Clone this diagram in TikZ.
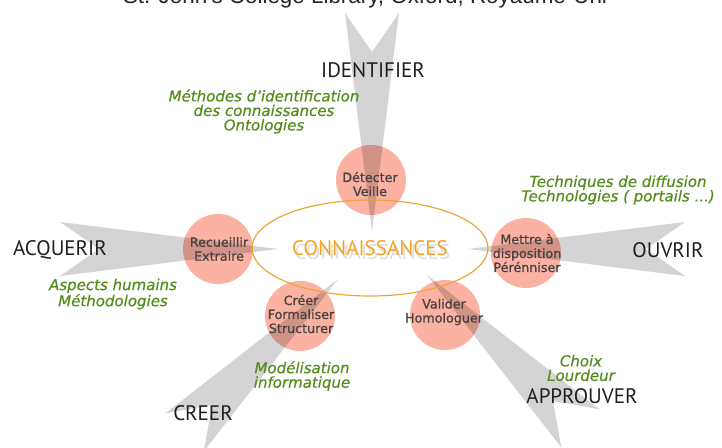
\documentclass[tikz,border=0pt]{standalone}
\usepackage{fontspec}
\setmainfont{DejaVu Sans}
\newfontfamily\labfont{PT Sans}
\newfontfamily\topfont{Liberation Sans}
\newfontfamily\circfont[FakeBold=0.9]{DejaVu Sans}
\newfontfamily\notefont[FakeBold=0.4]{DejaVu Sans}
\usetikzlibrary{shapes.geometric}
\definecolor{arrowgray}{RGB}{212,212,212}
\definecolor{salmon}{RGB}{251,178,162}
\definecolor{ellorange}{RGB}{236,166,56}
\definecolor{textorange}{RGB}{242,163,35}
\definecolor{greentxt}{RGB}{84,140,28}
\definecolor{circtxt}{RGB}{72,66,66}
\begin{document}
\begin{tikzpicture}[x=1pt,y=-1pt,
  bigarrow/.style={fill=arrowgray,draw=none},
  bubble/.style={circle,fill=salmon,minimum size=70pt,inner sep=0pt,blend mode=multiply},
  bubbletext/.style={font=\circfont\fontsize{12.7}{14}\selectfont,text=circtxt,align=center,inner sep=0pt},
  verb/.style={font=\labfont\fontsize{21}{21}\selectfont,text=black!88,inner sep=0pt},
  note/.style={font=\notefont\itshape\fontsize{15}{14.5}\selectfont,text=greentxt,align=center,inner sep=0pt},
  coreshade/.style={font=\labfont\fontsize{21}{21}\selectfont,text=black,opacity=0.13,inner sep=0pt}]
\useasboundingbox (0,0) rectangle (722,447);
\clip (0,0) rectangle (722,447);
% caption cut at the top
\node (caption) [anchor=base,inner sep=0pt,font=\topfont\fontsize{22.4}{24}\selectfont,text=black!85] at (365,4) {St. John's College Library, Oxford, Royaume-Uni};
% big gray arrows
\fill[bigarrow] (372,231) -- (345,13) -- (372,52) -- (399,13) -- cycle;
\fill[bigarrow] (278,249) -- (60,222) -- (99,249) -- (60,276) -- cycle;
\fill[bigarrow] (468,249) -- (685,222) -- (646,249) -- (685,276) -- cycle;
\fill[bigarrow] (427,275) -- (599.5,409.3) -- (552.9,400.9) -- (561.3,447.5) -- cycle;
\fill[bigarrow] (338,279) -- (165.5,413.3) -- (212.1,404.9) -- (203.7,451.5) -- cycle;
% bubbles
\node (c1) [bubble] at (371,180) {};
\node (c2) [bubble] at (218,249) {};
\node (c3) [bubble] at (300,316) {};
\node (c4) [bubble] at (445,315) {};
\node (c5) [bubble] at (526,253) {};
% central ellipse with soft text shadow
\node (shadow) [coreshade] at (372.5,252) {CONNAISSANCES};
\node (core) [ellipse,draw=ellorange,line width=1.2pt,minimum width=236pt,minimum height=96pt,inner sep=0pt,
  font=\labfont\fontsize{21}{21}\selectfont,text=textorange] at (370,248) {CONNAISSANCES};
% bubble texts
\node (t1) [bubbletext] at (370,184) {Détecter\\Veille};
\node (t2) [bubbletext] at (219,249) {Recueillir\\Extraire};
\node (t3) [bubbletext] at (301,314) {Créer\\Formaliser\\Structurer};
\node (t4) [bubbletext] at (444,312) {Valider\\Homologuer};
\node (t5) [bubbletext] at (527,253) {Mettre à\\disposition\\Pérénniser};
% verbs
\node (identifier) [verb] at (373,70) {IDENTIFIER};
\node (acquerir) [verb] at (60,250) {ACQUERIR};
\node (ouvrir) [verb] at (668,250) {OUVRIR};
\node (creer) [verb] at (203,413) {CREER};
\node (approuver) [verb] at (582,396) {APPROUVER};
% notes
\node (n1) [note] at (264,111.5) {Méthodes d’identification\\des connaissances\\Ontologies};
\node (n2) [note] at (618,190) {Techniques de diffusion\\Technologies ( portails ...)};
\node (n3) [note] at (113,294) {Aspects humains\\Méthodologies};
\node (n4) [note] at (302,376) {Modélisation\\informatique};
\node (n5) [note] at (581,368) {Choix\\Lourdeur};
\end{tikzpicture}
\end{document}
